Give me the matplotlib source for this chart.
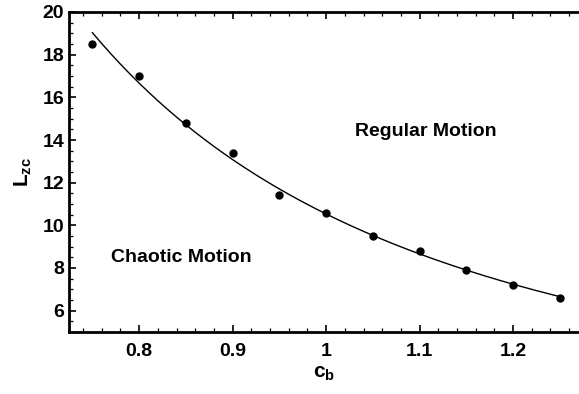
import numpy as np
import matplotlib.pyplot as plt
import matplotlib as mpl
from matplotlib.ticker import MultipleLocator

mpl.rcParams['font.family'] = ['Liberation Sans', 'DejaVu Sans']
mpl.rcParams['font.weight'] = 'bold'
mpl.rcParams['mathtext.fontset'] = 'custom'
mpl.rcParams['mathtext.rm'] = 'Liberation Sans:bold'
mpl.rcParams['mathtext.it'] = 'Liberation Sans:bold'
mpl.rcParams['mathtext.bf'] = 'Liberation Sans:bold'

# measured points
c_b = [0.75, 0.80, 0.85, 0.90, 0.95, 1.00, 1.05, 1.10, 1.15, 1.20, 1.25]
L_zc = [18.5, 17.0, 14.8, 13.4, 11.4, 10.6, 9.5, 8.8, 7.9, 7.2, 6.6]

# power-law fit through the points
slope, icpt = np.polyfit(np.log(c_b), np.log(L_zc), 1)
xfit = np.linspace(min(c_b), max(c_b), 200)
yfit = np.exp(icpt) * xfit ** slope

fig = plt.figure(figsize=(5.79, 3.94), dpi=100)
ax = fig.add_axes([69 / 579, 62 / 394, 1 - 69 / 579, 320 / 394])

ax.plot(xfit, yfit, color='black', lw=1.0)
ax.plot(c_b, L_zc, 'o', color='black', ms=5)

ax.set_xlim(0.725, 1.2705)
ax.set_ylim(5, 20)
ax.xaxis.set_minor_locator(MultipleLocator(0.02))
ax.yaxis.set_minor_locator(MultipleLocator(0.5))
ax.set_xticks([0.8, 0.9, 1.0, 1.1, 1.2])
ax.set_xticklabels(['0.8', '0.9', '1', '1.1', '1.2'])
ax.set_yticks([6, 8, 10, 12, 14, 16, 18, 20])

ax.tick_params(which='both', direction='in', top=True, right=False, labelsize=14)
ax.tick_params(which='major', length=5, width=1.2)
ax.tick_params(which='minor', length=3, width=0.9)
ax.tick_params(axis='x', pad=8)
for s in ['left', 'bottom', 'top']:
    ax.spines[s].set_linewidth(2)
ax.spines['right'].set_visible(False)

ax.set_xlabel(r'$\mathbf{c_b}$', fontsize=15, labelpad=3)
ax.set_ylabel(r'$\mathbf{L_{zc}}$', fontsize=15, labelpad=6)

ax.text(1.107, 14.42, 'Regular Motion', fontsize=14, ha='center', va='center')
ax.text(0.845, 8.47, 'Chaotic Motion', fontsize=14, ha='center', va='center')

fig.savefig('out.png', dpi=100)
